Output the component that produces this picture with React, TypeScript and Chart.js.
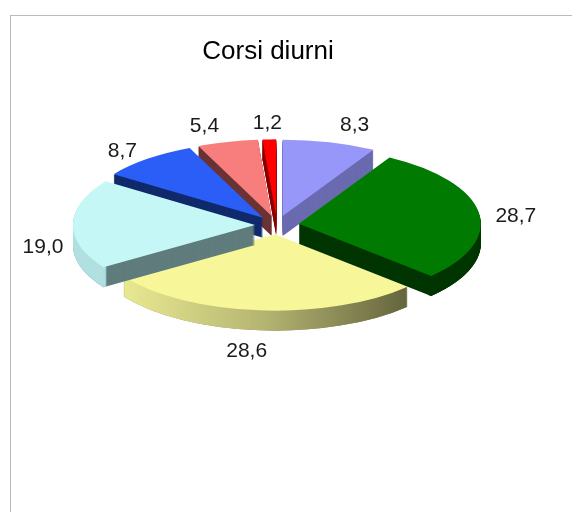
import React, { useEffect, useRef } from "react";
import { Chart, ArcElement, PieController } from "chart.js";

Chart.register(ArcElement, PieController);

const titleText = "Corsi diurni";
const values = [8.3, 28.7, 28.6, 19.0, 8.7, 5.4, 1.2];
const tickLabels = ["8,3", "28,7", "28,6", "19,0", "8,7", "5,4", "1,2"];
const topColors = ["#9797f9", "#007a00", "#f7f79a", "#c6f7f7", "#2b5ef7", "#f87d7d", "#ff0000"];
const wallColors = ["#6a6ab0", "#003500", "#8c8c58", "#607c7c", "#102a6c", "#6a3232", "#880000"];
const rimColors = ["#6a6ab0", "#003500", "#e8e890", "#b0e0e0", "#102a6c", "#6a3232", "#880000"];
const paintOrder = [5, 6, 0, 4, 2, 1, 3];
const labelNudgeX = [25, 37, -13, -30, -25, -23, -2];
const labelNudgeY = [-17, 4, 41, 23, -8, -16, -16];

const squash = 0.42;
const depth = 20;
const pieRadius = 182;
const explode = 22;

function cloneArc(arc: any, color: any, inner?: number) {
  return new (ArcElement as any)({
    x: arc.x,
    y: arc.y,
    startAngle: arc.startAngle,
    endAngle: arc.endAngle,
    circumference: arc.circumference,
    outerRadius: arc.outerRadius,
    innerRadius: inner ?? arc.innerRadius,
    options: Object.assign({}, arc.options, { backgroundColor: color, borderWidth: 0, offset: 0 }),
  });
}

const tiltedPie = {
  id: "tiltedPie",
  beforeDatasetDraw(chart: any) {
    const ctx = chart.ctx;
    const arcs = chart.getDatasetMeta(0).data;
    const cy = arcs[0].y;
    const cx = arcs[0].x;
    const R = arcs[0].outerRadius;
    const tilt = (arc: any, d: number, fn: () => void) => {
      const mid = (arc.startAngle + arc.endAngle) / 2;
      ctx.save();
      ctx.translate(Math.cos(mid) * explode, cy + d + Math.sin(mid) * explode * squash);
      ctx.scale(1, squash);
      ctx.translate(0, -cy);
      fn();
      ctx.restore();
    };
    for (const i of paintOrder) {
      const arc = arcs[i];
      let rim: any = rimColors[i];
      if (i === 2) {
        rim = ctx.createLinearGradient(cx - R * 0.85, 0, cx + R * 0.72, 0);
        rim.addColorStop(0, "#eaea92");
        rim.addColorStop(0.5, "#b5b572");
        rim.addColorStop(1, "#65653e");
      }
      const wall = cloneArc(arc, wallColors[i]);
      const ring = cloneArc(arc, rim, R - 4);
      for (let d = depth; d >= 1; d--) tilt(arc, d, () => wall.draw(ctx));
      for (let d = depth; d >= 1; d--) tilt(arc, d, () => ring.draw(ctx));
      tilt(arc, 0, () => cloneArc(arc, topColors[i]).draw(ctx));
    }
    ctx.save();
    ctx.fillStyle = "#1a1a1a";
    ctx.textAlign = "center";
    ctx.textBaseline = "middle";
    ctx.font = "21px 'Liberation Sans'";
    arcs.forEach((arc: any, i: number) => {
      const mid = (arc.startAngle + arc.endAngle) / 2;
      const px = cx + Math.cos(mid) * (R + explode);
      const py = cy + Math.sin(mid) * (R + explode) * squash;
      ctx.fillText(tickLabels[i], px + labelNudgeX[i], py + labelNudgeY[i]);
    });
    ctx.fillStyle = "#000";
    ctx.font = "26px 'Liberation Sans'";
    ctx.fillText(titleText, cx - 9, 52);
    ctx.restore();
    return false;
  },
};

export default function App() {
  const ref = useRef<HTMLCanvasElement>(null);
  useEffect(() => {
    document.body.style.margin = "0";
    const chart = new Chart(ref.current!, {
      type: "pie",
      data: {
        labels: tickLabels,
        datasets: [{ data: values, backgroundColor: topColors, borderWidth: 0, radius: pieRadius } as any],
      },
      options: {
        animation: false,
        responsive: false,
        layout: { padding: { left: 0, right: 18, top: 0, bottom: 62 } },
        plugins: { legend: { display: false }, tooltip: { enabled: false } },
      },
      plugins: [tiltedPie],
    } as any);
    return () => chart.destroy();
  }, []);
  return (
    <div style={{ position: "relative", width: 572, height: 512, overflow: "hidden", background: "#fff" }}>
      <div style={{ position: "absolute", left: 10, top: 15, width: 600, height: 600, borderLeft: "1px solid #bbb", borderTop: "1px solid #bbb" }} />
      <canvas ref={ref} width={572} height={512} style={{ position: "absolute", left: 0, top: 0 }} />
    </div>
  );
}
